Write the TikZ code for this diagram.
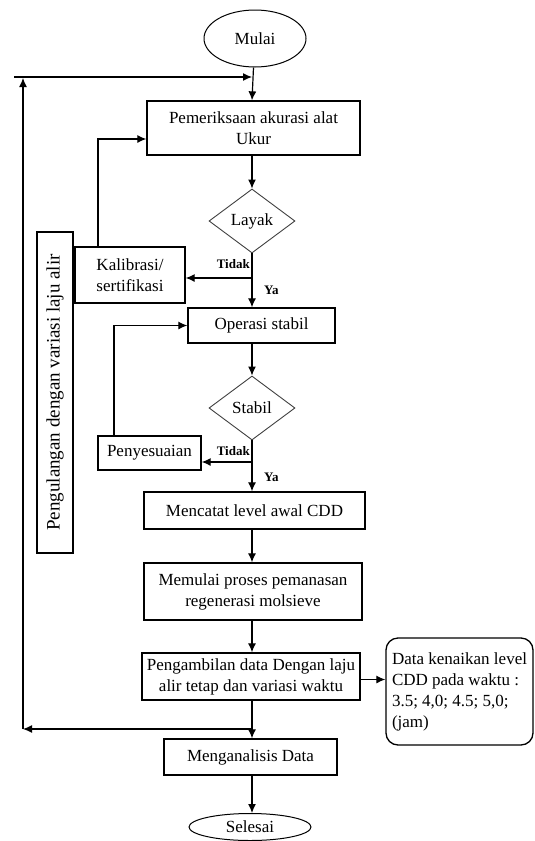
\documentclass[tikz,border=0pt]{standalone}
\usepackage{fontspec}
\setmainfont{Liberation Serif}
\usetikzlibrary{arrows.meta, positioning, shapes.geometric}
\newcommand{\tekssedang}{\fontsize{17}{21}\selectfont}
\tikzset{
  kotak/.style={draw, line width=1.3pt, align=center, inner sep=4pt,
                font=\tekssedang},
  putusan/.style={draw=black!75, line width=0.9pt, diamond, inner sep=0pt,
                  font=\tekssedang},
  terminal/.style={draw, line width=1pt, ellipse, inner sep=0pt,
                   font=\tekssedang},
  ket/.style={font=\fontsize{13}{15}\selectfont\bfseries, inner sep=0pt},
  arr/.style={-{Latex[length=9pt,width=8pt]}, line width=1.2pt},
}

\begin{document}
\begin{tikzpicture}[x=1pt, y=-1pt]
  \useasboundingbox (0,0) rectangle (535,841);

  \node[terminal, minimum width=102pt, minimum height=57pt] (mulai) at (255,38.5) {Mulai};
  \node[kotak, minimum width=213pt, minimum height=54pt] (periksa) at (253.5,128)
    {Pemeriksaan akurasi alat\\Ukur};
  \node[putusan, minimum width=86pt, minimum height=64pt] (layak) at (252,221) {Layak};
  \node[kotak, minimum width=110pt, minimum height=56pt] (kalib) at (130,275)
    {Kalibrasi/\\sertifikasi};
  \node[kotak, rotate=90, minimum width=321pt, minimum height=36pt,
        font=\fontsize{19}{21}\selectfont] (ulang) at (55,392.5)
    {Pengulangan dengan variasi laju alir};
  \node[kotak, minimum width=147pt, minimum height=35pt] (operasi) at (261.5,325.5)
    {Operasi stabil};
  \node[putusan, minimum width=86pt, minimum height=64pt] (stabil) at (252,408) {Stabil};
  \node[kotak, minimum width=103pt, minimum height=34pt] (sesuai) at (149.5,453)
    {Penyesuaian};
  \node[kotak, minimum width=221pt, minimum height=37pt] (catat) at (254.5,510.5)
    {Mencatat level awal CDD};
  \node[kotak, minimum width=218pt, minimum height=57pt] (panas) at (253,591.5)
    {Memulai proses pemanasan\\regenerasi molsieve};
  \node[kotak, minimum width=218pt, minimum height=47pt] (ambil) at (251,676.5)
    {Pengambilan data Dengan laju\\alir tetap dan variasi waktu};
  \node[kotak, align=left, rounded corners=12pt, minimum width=147pt,
        minimum height=107pt] (naik) at (459.5,691.5)
    {Data kenaikan level\\CDD pada waktu :\\3.5; 4,0; 4.5; 5,0;\\(jam)};
  \node[kotak, minimum width=173pt, minimum height=36pt] (analisis) at (250.5,757)
    {Menganalisis Data};
  \node[terminal, minimum width=122pt, minimum height=27pt] (selesai) at (250,827)
    {Selesai};

  % titik bantu garis kembali
  \coordinate (atas) at (252,77);
  \coordinate (atasKiri) at (14,77);
  \coordinate (kiriAtas) at (23,78);
  \coordinate (kiriBawah) at (23,729);
  \coordinate (cabang) at (252,729);
  \coordinate (tidak1) at (252,278);
  \coordinate (tidak2) at (252,462);

  % alur utama
  \draw[arr] (mulai.south -| periksa.north) -- (periksa.north -| atas);
  \draw[arr] (periksa.south -| layak.north) -- (layak.north);
  \draw[arr] (layak.south) -- (layak.south |- operasi.north);
  \draw[arr] (stabil.north |- operasi.south) -- (stabil.north);
  \draw[arr] (stabil.south) -- (stabil.south |- catat.north);
  \draw[arr] (catat.south -| stabil.south) -- (panas.north -| stabil.south);
  \draw[arr] (panas.south -| stabil.south) -- (ambil.north -| stabil.south);
  \draw[arr] (ambil.south -| stabil.south) -- (analisis.north -| stabil.south);
  \draw[arr] (analisis.south -| stabil.south) -- (selesai.north -| stabil.south);
  \draw[arr] ([yshift=-3pt]ambil.east) -- ([yshift=-3pt]ambil.east -| naik.west);

  % cabang Tidak
  \draw[arr] (tidak1) -- (tidak1 -| kalib.east);
  \draw[arr] ([xshift=-32pt]kalib.north) |- ([yshift=-11pt]periksa.west);
  \draw[arr] (tidak2) -- (tidak2 -| sesuai.east);
  \draw[arr] ([xshift=-35.5pt]sesuai.north) |- (operasi.west);
  \node[ket, anchor=base east] (t1) at (250,268) {Tidak};
  \node[ket, anchor=west] (y1) at (264,290) {Ya};
  \node[ket, anchor=base east] (t2) at (250,455) {Tidak};
  \node[ket, anchor=west] (y2) at (264,477) {Ya};

  % pengulangan
  \draw[arr] (cabang) -- (kiriBawah);
  \draw[arr] (kiriBawah) -- (kiriAtas);
  \draw[arr] (atasKiri) -- (atas);
\end{tikzpicture}
\end{document}
